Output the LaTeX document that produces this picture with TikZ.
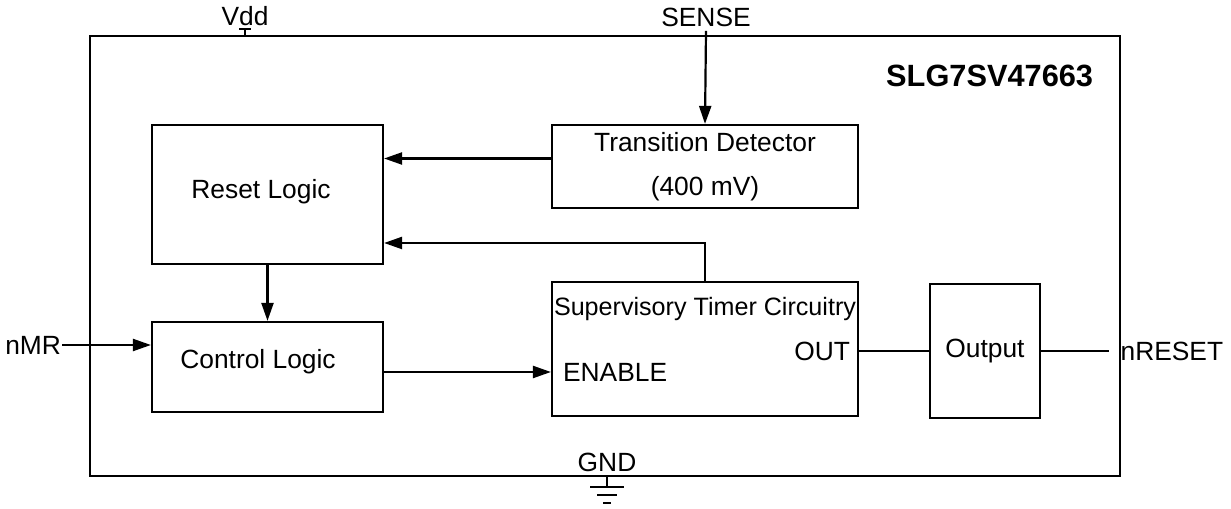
\documentclass[tikz,border=0pt]{standalone}
\usepackage{fontspec}
\setmainfont{Liberation Sans}
\usepackage{tikz}
\usetikzlibrary{arrows.meta, positioning, calc}
\tikzset{every node/.style={font=\fontsize{15}{18}\selectfont}}

\begin{document}
\begin{tikzpicture}[x=0.02cm, y=-0.02cm, line width=1.25pt,
    blockbox/.style={draw, line width=1.25pt, inner sep=0pt},
    arr/.style={-{Triangle[length=3.6mm, width=2.4mm]}},
    pinlabel/.style={inner sep=2pt}]
    \useasboundingbox (0,0) rectangle (1231,509);
    % package outline
    \draw (90,36) rectangle (1120,476);
    \node[anchor=east, font=\fontsize{17.5}{20}\selectfont\bfseries] (part) at (1100,76) {SLG7SV47663};

    % blocks
    \node[blockbox, minimum width=4.62cm, minimum height=2.78cm] (reset) at (267.5,194.5) {};
    \node at (261,192) {Reset Logic};
    \node[blockbox, minimum width=4.62cm, minimum height=1.8cm] (ctrl) at (267.5,367) {};
    \node at (258,362) {Control Logic};
    \node[blockbox, minimum width=6.12cm, minimum height=1.66cm, align=center] (trans) at (705,166.5) {Transition Detector\\[7pt](400 mV)};
    \node[blockbox, minimum width=6.12cm, minimum height=2.68cm] (sup) at (705,349) {};
    \node[anchor=north, inner sep=0pt, font=\fontsize{14.3}{17}\selectfont] (suptitle) at ([yshift=-0.3cm]sup.north) {Supervisory Timer Circuitry};
    \node[anchor=west, inner sep=0pt] (en) at (562,372) {ENABLE};
    \node[anchor=east, inner sep=0pt] (out) at (851,351) {OUT};
    \node[blockbox, minimum width=2.2cm, minimum height=2.68cm] (outp) at (985,351) {Output};

    % pins
    \node[pinlabel] (vdd) at (245,16) {Vdd};
    \node[pinlabel] (sense) at (706,17) {SENSE};
    \node[pinlabel, anchor=east, inner sep=0pt] (nmr) at (62,345) {nMR};
    \node[pinlabel, anchor=west, inner sep=6pt] (nreset) at (1109,351) {nRESET};
    \node[pinlabel] (gnd) at (607,462) {GND};

    % connections
    \draw[arr] (sense.south) -- (trans.north);
    \draw[arr] ([yshift=0.16cm]trans.west) -- ([yshift=0.16cm]trans.west -| reset.east);
    \draw[arr] (sup.north) |- ([yshift=-0.97cm]reset.east);
    \draw[arr] (reset.south) -- (ctrl.north);
    \draw[arr] (nmr.east) -- (nmr.east -| ctrl.west);
    \draw[arr] (en.west -| ctrl.east) -- (en.west -| sup.west);
    \draw (out.east -| sup.east) -- (outp.west);
    \draw (outp.east) -- (nreset.west);

    % supply and ground
    \draw (245,36) -- (245,29) (239,29) -- (251,29);
    \draw (607,476) -- (607,487);
    \draw (590,487) -- (624,487) (597,495) -- (617,495) (603,503) -- (611,503);
\end{tikzpicture}
\end{document}
